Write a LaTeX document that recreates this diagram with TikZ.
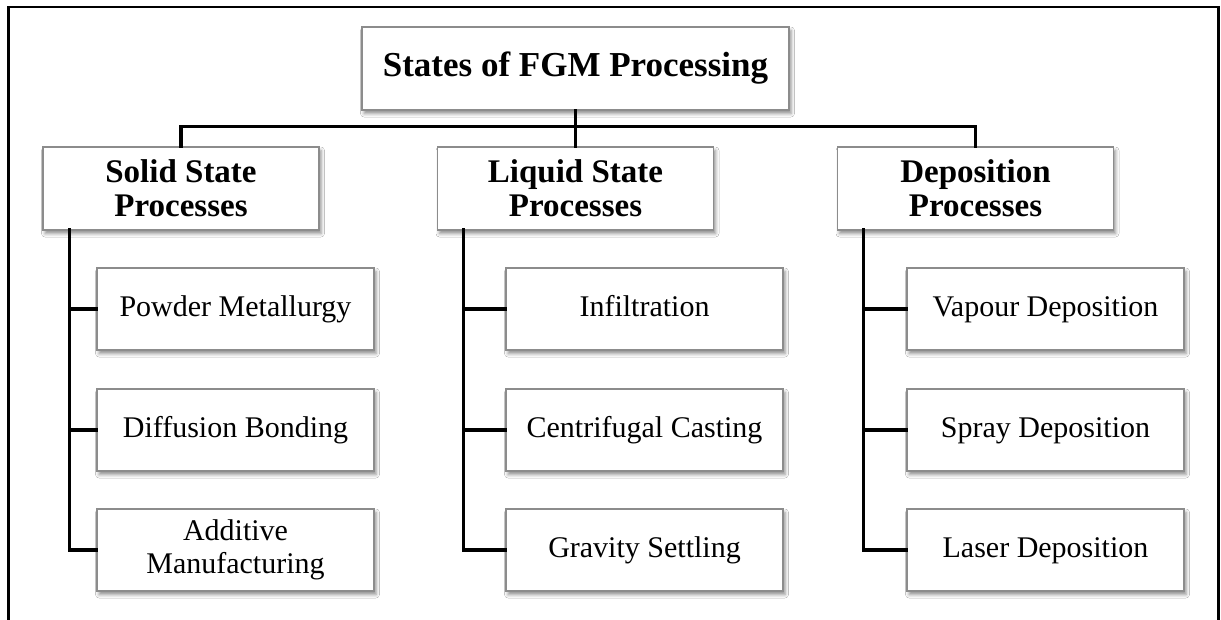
\documentclass[tikz,border=0pt]{standalone}
\usepackage{fontspec}
\setmainfont{Liberation Serif}
\usetikzlibrary{shadows.blur}
\definecolor{boxedge}{RGB}{140,140,140}
\tikzset{
  procbox/.style={draw=boxedge, line width=1.4pt, fill=white, inner sep=0pt,
    minimum width=277pt, minimum height=82pt, align=center,
    blur shadow={shadow xshift=2pt, shadow yshift=-3.5pt, shadow blur radius=3.5pt, shadow opacity=45}},
  headbox/.style={procbox, minimum width=276pt, minimum height=83pt,
    font=\fontsize{33}{34}\selectfont\bfseries},
  titlebox/.style={procbox, minimum width=427pt, minimum height=83pt,
    font=\fontsize{35}{36}\selectfont\bfseries},
  leafbox/.style={procbox, font=\fontsize{30}{33}\selectfont},
  oneline/.style={leafbox, text height=21pt, text depth=6pt},
  link/.style={line width=3.2pt, line cap=rect},
  frameline/.style={line width=2.4pt}
}
\begin{document}
\begin{tikzpicture}[x=1pt,y=-1pt]
\useasboundingbox (0,0) rectangle (1221,619);
\fill[white] (0,0) rectangle (1221,619);
% outer frame, open at the bottom
\draw[frameline] (8.5,620) -- (8.5,6.8) -- (1218.5,6.8) -- (1218.5,620);

% root
\node[titlebox] (root) at (575.5,68.5) {States of FGM Processing};

% process families
\node[headbox] (solid) at (181,188.5) {Solid State\\Processes};
\node[headbox] (liquid) at (575.5,188.5) {Liquid State\\Processes};
\node[headbox] (depo) at (975.5,188.5) {Deposition\\Processes};

% solid state routes
\node[oneline] (pm) at (235.5,309) {Powder Metallurgy};
\node[oneline] (db) at (235.5,430) {Diffusion Bonding};
\node[leafbox] (am) at (235.5,550) {Additive\\Manufacturing};

% liquid state routes
\node[oneline] (inf) at (644.5,309) {Infiltration};
\node[oneline] (cc) at (644.5,430) {Centrifugal Casting};
\node[oneline] (gs) at (644.5,550) {Gravity Settling};

% deposition routes
\node[oneline] (vd) at (1045.5,309) {Vapour Deposition};
\node[oneline] (sd) at (1045.5,430) {Spray Deposition};
\node[oneline] (ld) at (1045.5,550) {Laser Deposition};

% root to families
\draw[link] (root.south) -- (liquid.north);
\draw[link] (solid.north) -- ++(0,-20) -| (depo.north);

% trunks down the left of each family
\coordinate (sT) at (69.5,230);
\coordinate (lT) at (463.5,230);
\coordinate (dT) at (863.5,230);
\draw[link] (sT) |- (am.west);
\draw[link] (pm.west) -- (pm.west -| sT);
\draw[link] (db.west) -- (db.west -| sT);
\draw[link] (lT) |- (gs.west);
\draw[link] (inf.west) -- (inf.west -| lT);
\draw[link] (cc.west) -- (cc.west -| lT);
\draw[link] (dT) |- (ld.west);
\draw[link] (vd.west) -- (vd.west -| dT);
\draw[link] (sd.west) -- (sd.west -| dT);
\end{tikzpicture}
\end{document}
